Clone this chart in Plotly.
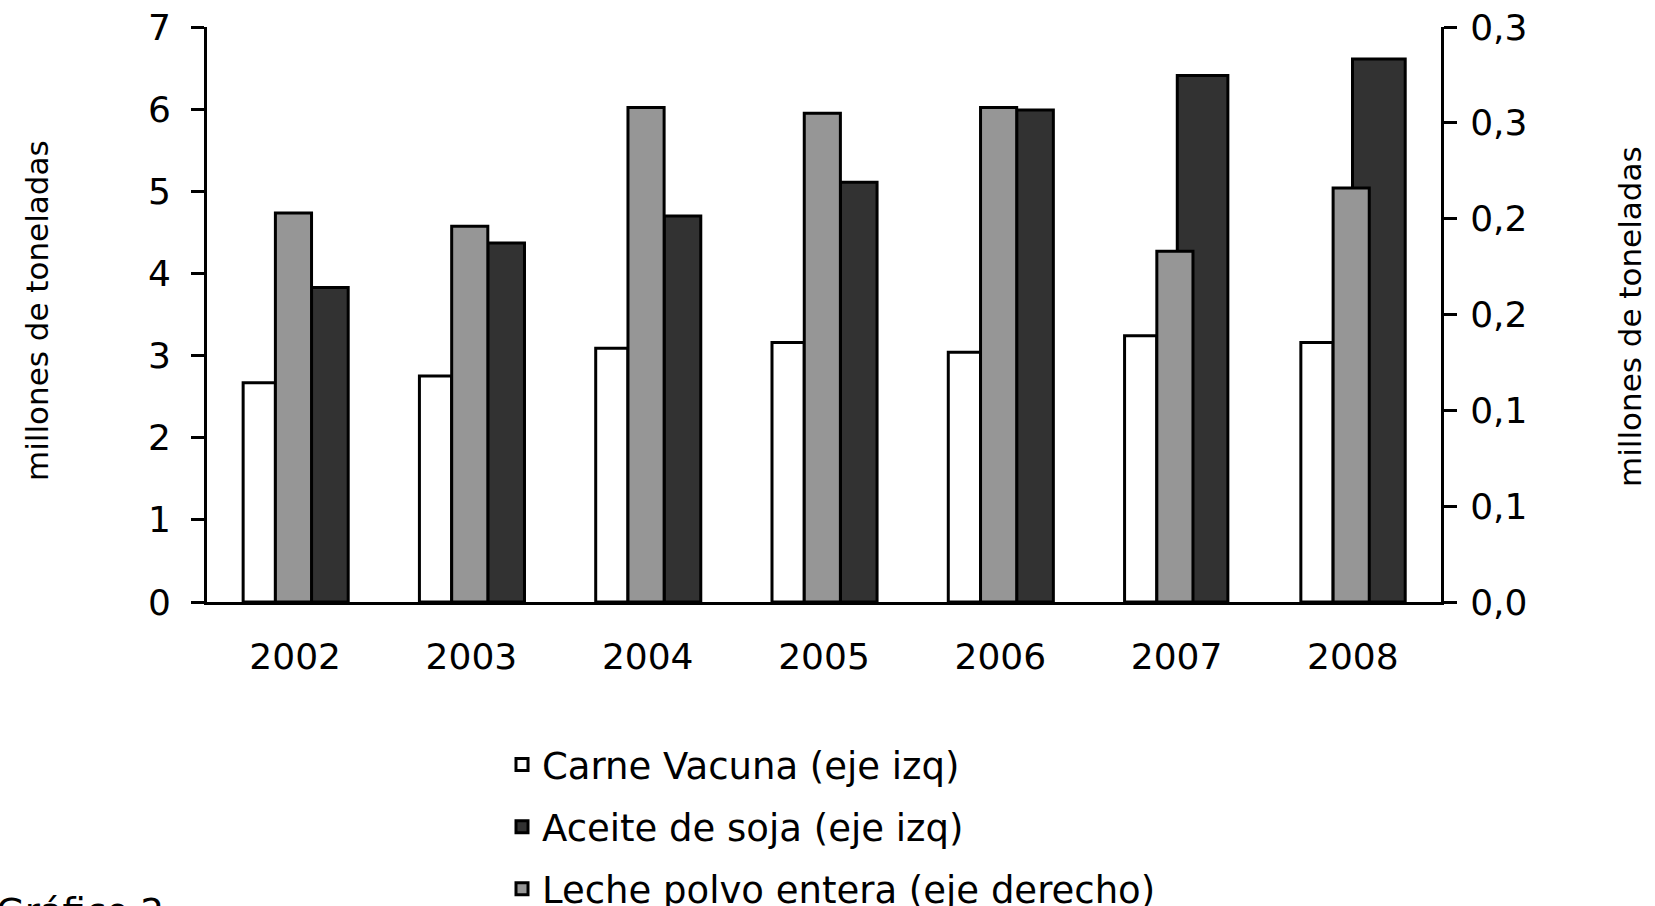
import plotly.graph_objects as go

# ---- data ----
years = ["2002", "2003", "2004", "2005", "2006", "2007", "2008"]
carne_vacuna = [2.67, 2.75, 3.09, 3.16, 3.04, 3.24, 3.16]          # left axis
aceite_soja = [3.83, 4.37, 4.70, 5.11, 5.99, 6.41, 6.61]            # left axis
leche_polvo = [0.203, 0.196, 0.258, 0.255, 0.258, 0.183, 0.216]     # right axis

left_ticks = [0, 1, 2, 3, 4, 5, 6, 7]
right_tickvals = [0, 0.05, 0.10, 0.15, 0.20, 0.25, 0.30]
right_ticktext = ["0,0", "0,1", "0,1", "0,2", "0,2", "0,3", "0,3"]

names = ["Carne Vacuna (eje izq)", "Aceite de soja (eje izq)", "Leche polvo entera (eje derecho)"]
axis_title = "millones de toneladas"
caption = "Gráfico 2"

# ---- styles ----
FONT = "DejaVu Sans"
W, H = 1655, 906
ML, MR, MT, MB = 207, 214, 27, 304
PW, PH = W - ML - MR, H - MT - MB
white_offset, white_width = -0.295, 0.183
gray_offset, gray_width = -0.112, 0.205
dark_offsets = [0.093, 0.093, 0.093, 0.093, 0.093, 0.004, -0.002]
dark_widths = [0.208, 0.208, 0.208, 0.208, 0.208, 0.287, 0.299]
outline = dict(color="black", width=3)


def px_x(p):
    return (p - ML) / PW


def px_y(p):
    return (MT + PH - p) / PH


fig = go.Figure()
fig.add_trace(go.Bar(x=years, y=carne_vacuna, name=names[0], yaxis="y",
                     offset=white_offset, width=white_width,
                     marker=dict(color="#ffffff", line=outline), legendgroup="a"))
fig.add_trace(go.Bar(x=years, y=aceite_soja, name=names[1], yaxis="y",
                     offset=dark_offsets, width=dark_widths,
                     marker=dict(color="#323232", line=outline), legendgroup="b"))
fig.add_trace(go.Bar(x=years, y=leche_polvo, name=names[2], yaxis="y2",
                     offset=gray_offset, width=gray_width,
                     marker=dict(color="#969696", line=outline), legendgroup="c"))

title_font = dict(family=FONT, size=31, color="black")

fig.update_layout(
    width=W, height=H,
    margin=dict(l=ML, r=MR, t=MT, b=MB, autoexpand=False),
    paper_bgcolor="white", plot_bgcolor="white",
    barmode="overlay",
    font=dict(family=FONT, size=36, color="black"),
    showlegend=True,
    legend=dict(xref="container", yref="container",
                x=502 / W, y=1 - 734 / H, xanchor="left", yanchor="top",
                orientation="v", font=dict(family=FONT, size=37, color="black"),
                tracegroupgap=11, bgcolor="rgba(0,0,0,0)", borderwidth=0),
    xaxis=dict(type="category", showgrid=False, zeroline=False, showline=True,
               linecolor="black", linewidth=3, ticks="", ticklabelstandoff=21,
               tickfont=dict(family=FONT, size=36, color="black"), range=[-0.5, 6.5]),
    yaxis=dict(range=[0, 7], tickvals=left_ticks, showgrid=False, zeroline=False,
               showline=True, linecolor="black", linewidth=3, ticks="outside",
               ticklen=13, tickwidth=3, tickcolor="black", ticklabelstandoff=13,
               tickfont=dict(family=FONT, size=36, color="black")),
    yaxis2=dict(range=[0, 0.30], tickvals=right_tickvals, ticktext=right_ticktext,
                overlaying="y", side="right", anchor="x", showgrid=False, zeroline=False,
                showline=True, linecolor="black", linewidth=3, ticks="outside",
                ticklen=13, tickwidth=3, tickcolor="black", ticklabelstandoff=6,
                tickfont=dict(family=FONT, size=36, color="black")),
    annotations=[
        dict(text=axis_title, textangle=-90, xref="paper", yref="paper",
             x=px_x(37), y=px_y(311), xanchor="center", yanchor="middle",
             showarrow=False, font=title_font),
        dict(text=axis_title, textangle=-90, xref="paper", yref="paper",
             x=px_x(1630), y=px_y(317), xanchor="center", yanchor="middle",
             showarrow=False, font=title_font),
        dict(text=caption, xref="paper", yref="paper",
             x=px_x(-6), y=px_y(889), xanchor="left", yanchor="top",
             showarrow=False, font=dict(family=FONT, size=37, color="black")),
    ],
)

fig.write_html("out.html", config={"displayModeBar": False},
               post_script="document.body.style.margin='0';")
